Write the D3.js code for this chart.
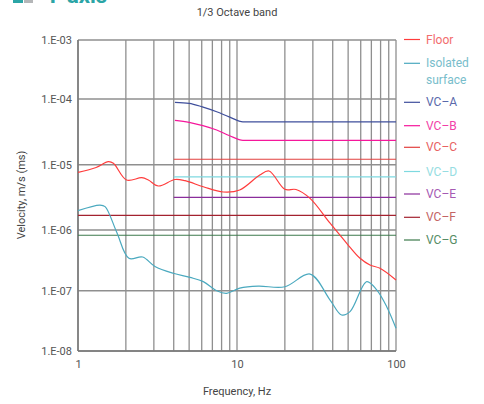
<!DOCTYPE html>
<html><head><meta charset="utf-8">
<script src="https://cdn.jsdelivr.net/npm/d3@7"></script>
<style>
body{margin:0;background:#fff;}
svg{display:block;font-family:Roboto, "DejaVu Sans", sans-serif;}
</style></head>
<body>
<svg id="chart" width="484" height="404"></svg>
<script>
// ---- Data ----
const floorFreq = [1.0,1.3,1.55,1.67,2.02,2.52,2.77,3.2,4.07,4.71,6.14,8.2,10.4,13.9,15.9,20.0,23.5,28.8,38.5,49,59.4,68.6,79.3,100];
const floorVel  = [7.65e-6,9.06e-6,1.11e-5,1.05e-5,5.83e-6,6.32e-6,5.83e-6,4.72e-6,5.93e-6,5.69e-6,4.6e-6,3.82e-6,4.1e-6,6.95e-6,8.0e-6,4.2e-6,4.17e-6,3.05e-6,1.27e-6,6.04e-7,3.42e-7,2.65e-7,2.34e-7,1.5e-7];
const isoFreq = [1.0,1.375,1.48,1.75,2.09,2.55,3.05,3.97,5.06,6.14,7.45,8.6,10.4,13.6,20,28.8,38.5,45.5,51.4,65.5,75.6,87.4,100];
const isoVel  = [1.98e-6,2.41e-6,2.28e-6,9.27e-7,3.42e-7,3.59e-7,2.51e-7,1.94e-7,1.66e-7,1.41e-7,1.0e-7,9.06e-8,1.10e-7,1.19e-7,1.16e-7,1.88e-7,7.0e-8,3.96e-8,4.49e-8,1.41e-7,1.03e-7,5.43e-8,2.38e-8];
const vcAFreq = [4.07,5.0,6.05,7.45,9.0,10.9,100];
const vcAVel  = [8.9e-5,8.6e-5,7.6e-5,6.4e-5,5.3e-5,4.5e-5,4.5e-5];
const vcBFreq = [4.07,5.0,6.1,7.45,9.0,10.9,100];
const vcBVel  = [4.74e-5,4.42e-5,3.93e-5,3.37e-5,2.76e-5,2.35e-5,2.35e-5];
const vcCFreq = [4,100];   const vcCVel = [1.21e-5,1.21e-5];
const vcDFreq = [4,100];   const vcDVel = [6.5e-6,6.5e-6];
const vcEFreq = [4,100];   const vcEVel = [3.16e-6,3.16e-6];
const vcFFreq = [1,100];   const vcFVel = [1.68e-6,1.68e-6];
const vcGFreq = [1,100];   const vcGVel = [8.2e-7,8.2e-7];
const legendNames = ["Floor","Isolated surface","VC\u2013A","VC\u2013B","VC\u2013C","VC\u2013D","VC\u2013E","VC\u2013F","VC\u2013G"];
const yTickValues = [1e-8,1e-7,1e-6,1e-5,1e-4,1e-3];
const yTickLabels = ["1.E-08","1.E-07","1.E-06","1.E-05","1.E-04","1.E-03"];
const xTickValues = [1,10,100];
const xTickLabels = ["1","10","100"];
const xGridValues = [1,2,3,4,5,6,7,8,9,10,20,30,40,50,60,70,80,90,100];

// ---- Styles ----
const lineColors = ["#ff3c3c","#4aa9bf","#3f4f9c","#f5179b","#e2403f","#7ed9e0","#8a2d9b","#a3222f","#3d7a4c"];
const textColors = ["#f26d6d","#78bdcb","#5a69ab","#f23fa8","#e86262","#96dde2","#a55ab3","#c46464","#568c65"];

const svg = d3.select("#chart");
const x = d3.scaleLog().domain([1,100]).range([78,396]);
const y = d3.scaleLog().domain([1e-8,1e-7,1e-6,1e-5,1e-4,1e-3]).range([351,290.7,230,164.7,99,40]);

// header remnant at top
svg.append("rect").attr("x",13).attr("y",0).attr("width",10).attr("height",3).attr("fill","#2ba5a6");
svg.append("rect").attr("x",24).attr("y",0).attr("width",9).attr("height",3).attr("fill","#b4b6b8");
svg.append("text").attr("x",46).attr("y",2.5).attr("font-size",22).attr("font-weight","bold")
  .attr("fill","#2ba5a6").text("Y-axis");

// title
svg.append("text").attr("x",237).attr("y",16).attr("text-anchor","middle")
  .attr("font-size",11).attr("fill","#444").text("1/3 Octave band");

// grid
const grid = svg.append("g");
grid.selectAll("line.v").data(xGridValues).join("line")
  .attr("x1",d=>x(d)).attr("x2",d=>x(d)).attr("y1",y(1e-3)).attr("y2",y(1e-8))
  .attr("stroke","#8f8f8f").attr("stroke-width",1.3);
grid.selectAll("line.h").data(yTickValues).join("line")
  .attr("x1",x(1)).attr("x2",x(100)).attr("y1",d=>y(d)).attr("y2",d=>y(d))
  .attr("stroke","#8f8f8f").attr("stroke-width",1.6);
// axes lines
svg.append("line").attr("x1",x(1)).attr("x2",x(1)).attr("y1",y(1e-3)).attr("y2",y(1e-8)).attr("stroke","#777").attr("stroke-width",1.5);
svg.append("line").attr("x1",x(1)).attr("x2",x(100)).attr("y1",y(1e-8)).attr("y2",y(1e-8)).attr("stroke","#777").attr("stroke-width",1.5);

// axes labels
const yAxis = d3.axisLeft(y).tickValues(yTickValues).tickFormat((d,i)=>yTickLabels[i]).tickSize(0).tickPadding(6);
const ga = svg.append("g").attr("transform",`translate(${x(1)},0)`).call(yAxis);
ga.select(".domain").remove();
ga.selectAll("text").attr("font-size",11).attr("fill","#555").attr("font-family","Roboto, sans-serif");
const xAxis = d3.axisBottom(x).tickValues(xTickValues).tickFormat((d,i)=>xTickLabels[i]).tickSize(0).tickPadding(9);
const gx = svg.append("g").attr("transform",`translate(0,${y(1e-8)})`).call(xAxis);
gx.select(".domain").remove();
gx.selectAll("text").attr("font-size",11).attr("fill","#555").attr("font-family","Roboto, sans-serif");

svg.append("text").attr("x",237).attr("y",395).attr("text-anchor","middle")
  .attr("font-size",11).attr("fill","#444").text("Frequency, Hz");
svg.append("text").attr("transform","translate(25,195) rotate(-90)").attr("text-anchor","middle")
  .attr("font-size",11).attr("fill","#444").text("Velocity, m/s (ms)");

// series
const series = [
  [floorFreq,floorVel],[isoFreq,isoVel],[vcAFreq,vcAVel],[vcBFreq,vcBVel],
  [vcCFreq,vcCVel],[vcDFreq,vcDVel],[vcEFreq,vcEVel],[vcFFreq,vcFVel],[vcGFreq,vcGVel]
];
const smooth = d3.line().x(d=>x(d[0])).y(d=>y(d[1])).curve(d3.curveCatmullRom.alpha(0.5));
const mono = d3.line().x(d=>x(d[0])).y(d=>y(d[1])).curve(d3.curveMonotoneX);
const drawOrder = [8,7,6,5,4,3,2,1,0];
drawOrder.forEach(i=>{
  const [fs,vs] = series[i];
  svg.append("path").datum(fs.map((f,j)=>[f,vs[j]]))
    .attr("d", i<2 ? smooth : mono).attr("fill","none").attr("stroke",lineColors[i]).attr("stroke-width",1.2);
});

// legend
const legY = [39.5,63.3,102.3,125.7,147.3,171.5,194,217.3,240];
const leg = svg.append("g");
legendNames.forEach((name,i)=>{
  leg.append("line").attr("x1",404).attr("x2",420).attr("y1",legY[i]).attr("y2",legY[i])
    .attr("stroke",lineColors[i]).attr("stroke-width",1.2);
  const t = leg.append("text").attr("x",426).attr("y",legY[i]+4).attr("font-size",12).attr("fill",textColors[i]);
  if(name==="Isolated surface"){
    t.append("tspan").attr("x",426).text("Isolated");
    t.append("tspan").attr("x",426).attr("dy",16.5).text("surface");
  } else t.text(name);
});
</script>
</body></html>
